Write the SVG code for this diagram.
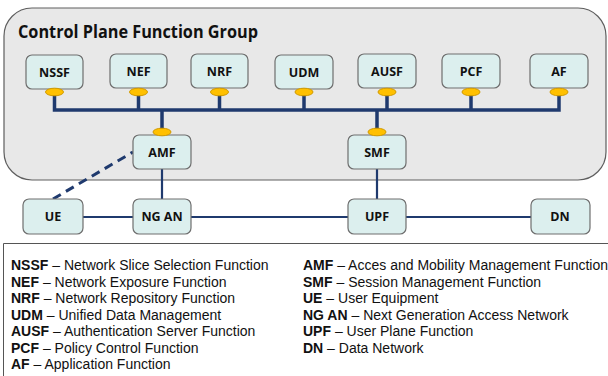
<svg xmlns="http://www.w3.org/2000/svg" width="608" height="376" viewBox="0 0 608 376">
<style>
.node rect{fill:#DCEFEE;stroke:#6E6E6E;stroke-width:1.2}
.node text{font-family:"Open Sans","DejaVu Sans",sans-serif;font-weight:bold;font-size:12.5px;fill:#111;text-anchor:middle}
.port{fill:#FFC000;stroke:#D19A00;stroke-width:1}
.bus{stroke:#1F3A6E;stroke-width:3.5;fill:none}
.ln{stroke:#1F3A6E;stroke-width:2.2;fill:none}
.dash{stroke:#1F3A6E;stroke-width:3;fill:none;stroke-dasharray:9 6}
.lg{font-family:"Liberation Sans",Arial,sans-serif;font-size:14px;fill:#111}
.lg tspan.b{font-weight:bold}
</style>
<rect width="608" height="376" fill="#ffffff"/>
<g id="group-cp">
<rect x="4" y="8" width="602" height="172" rx="28" ry="28" fill="#E8E8E8" stroke="#5E5E5E" stroke-width="1.2"/>
<text x="18" y="38" font-family="'Open Sans','DejaVu Sans',sans-serif" font-weight="bold" font-size="17px" fill="#111" textLength="240" lengthAdjust="spacingAndGlyphs">Control Plane Function Group</text>
</g>
<g id="connectors">
<path class="bus" d="M54.5 92 V110 H559 V92 M138.5 92 V110 M219.5 92 V110 M304 92 V110 M387 92 V110 M471 92 V110 M162 110 V131 M377 110 V131"/>
<path class="ln" d="M162 169 V199 M377 169 V199 M83 217 H133 M191 217 H348 M406 217 H531"/>
<path class="dash" d="M53 199 L133 152"/>
</g>
<g id="node-nssf" class="node"><rect x="26" y="55" width="57" height="34" rx="6"/><text x="54.5" y="77">NSSF</text><ellipse class="port" cx="54.5" cy="92" rx="9" ry="3.8"/></g>
<g id="node-nef" class="node"><rect x="110" y="54" width="57" height="34" rx="6"/><text x="138.5" y="76">NEF</text><ellipse class="port" cx="138.5" cy="92" rx="9" ry="3.8"/></g>
<g id="node-nrf" class="node"><rect x="191" y="54" width="57" height="34" rx="6"/><text x="219.5" y="76">NRF</text><ellipse class="port" cx="219.5" cy="92" rx="9" ry="3.8"/></g>
<g id="node-udm" class="node"><rect x="275" y="55" width="58" height="34" rx="6"/><text x="304" y="77">UDM</text><ellipse class="port" cx="304" cy="92" rx="9" ry="3.8"/></g>
<g id="node-ausf" class="node"><rect x="358" y="54" width="58" height="34" rx="6"/><text x="387" y="76">AUSF</text><ellipse class="port" cx="387" cy="92" rx="9" ry="3.8"/></g>
<g id="node-pcf" class="node"><rect x="442" y="54" width="58" height="34" rx="6"/><text x="471" y="76">PCF</text><ellipse class="port" cx="471" cy="92" rx="9" ry="3.8"/></g>
<g id="node-af" class="node"><rect x="530" y="54" width="58" height="34" rx="6"/><text x="559" y="76">AF</text><ellipse class="port" cx="559" cy="92" rx="9" ry="3.8"/></g>
<g id="node-amf" class="node"><rect x="133" y="135" width="58" height="34" rx="6"/><text x="162" y="157">AMF</text><ellipse class="port" cx="162" cy="132" rx="9" ry="3.8"/></g>
<g id="node-smf" class="node"><rect x="348" y="135" width="58" height="34" rx="6"/><text x="377" y="157">SMF</text><ellipse class="port" cx="377" cy="132" rx="9" ry="3.8"/></g>
<g id="node-ue" class="node"><rect x="23" y="199" width="60" height="35" rx="6"/><text x="53" y="221">UE</text></g>
<g id="node-ngan" class="node"><rect x="133" y="199" width="58" height="35" rx="6"/><text x="162" y="221">NG AN</text></g>
<g id="node-upf" class="node"><rect x="348" y="199" width="58" height="35" rx="6"/><text x="377" y="221">UPF</text></g>
<g id="node-dn" class="node"><rect x="531" y="199" width="59" height="35" rx="6"/><text x="560" y="221">DN</text></g>
<g id="legend">
<path d="M3.5 376 V243.5 H608" fill="none" stroke="#555" stroke-width="1"/>
<text class="lg" x="11" y="270"><tspan class="b">NSSF</tspan> – Network Slice Selection Function</text>
<text class="lg" x="11" y="286.5"><tspan class="b">NEF</tspan> – Network Exposure Function</text>
<text class="lg" x="11" y="303"><tspan class="b">NRF</tspan> – Network Repository Function</text>
<text class="lg" x="11" y="319.5"><tspan class="b">UDM</tspan> – Unified Data Management</text>
<text class="lg" x="11" y="336"><tspan class="b">AUSF</tspan> – Authentication Server Function</text>
<text class="lg" x="11" y="352.5"><tspan class="b">PCF</tspan> – Policy Control Function</text>
<text class="lg" x="11" y="369"><tspan class="b">AF</tspan> – Application Function</text>
<text class="lg" x="303" y="270"><tspan class="b">AMF</tspan> – Acces and Mobility Management Function</text>
<text class="lg" x="303" y="286.5"><tspan class="b">SMF</tspan> – Session Management Function</text>
<text class="lg" x="303" y="303"><tspan class="b">UE</tspan> – User Equipment</text>
<text class="lg" x="303" y="319.5"><tspan class="b">NG AN</tspan> – Next Generation Access Network</text>
<text class="lg" x="303" y="336"><tspan class="b">UPF</tspan> – User Plane Function</text>
<text class="lg" x="303" y="352.5"><tspan class="b">DN</tspan> – Data Network</text>
</g>
</svg>
